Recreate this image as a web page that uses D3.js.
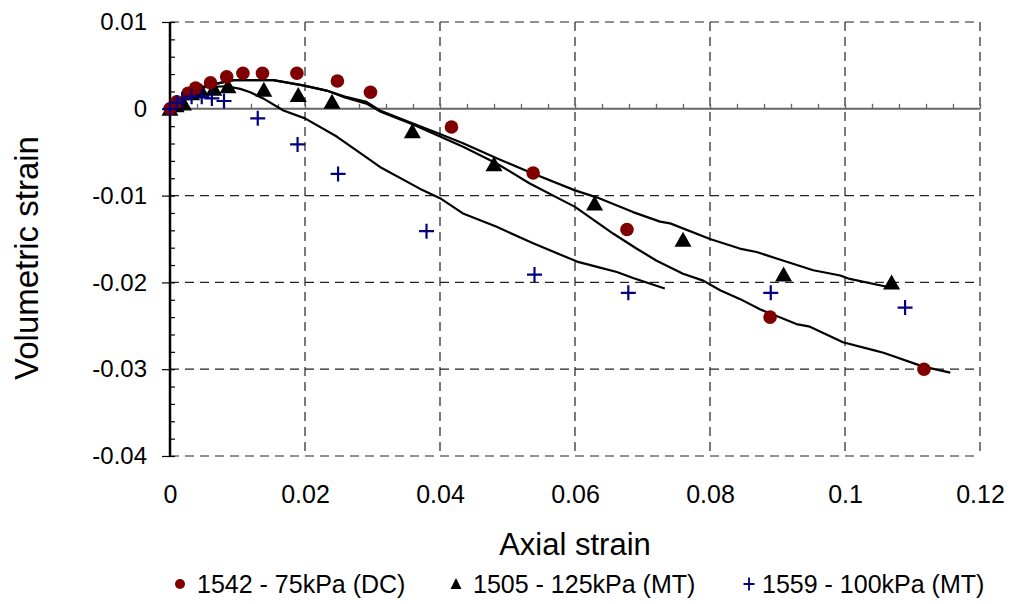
<!DOCTYPE html>
<html>
<head>
<meta charset="utf-8">
<script src="https://cdn.jsdelivr.net/npm/d3@7"></script>
<style>
  body { margin: 0; background: #fff; }
  svg { font-family: "Liberation Sans", Arial, sans-serif; }
</style>
</head>
<body>
<div id="chart"></div>
<script>
const WIDTH = 1013;
const HEIGHT = 604;

// measured points (axial strain, volumetric strain)
const dcAxial = [0, 0.001, 0.0027, 0.0038, 0.006, 0.0084, 0.0108, 0.0137, 0.0188, 0.0248, 0.0297, 0.0417, 0.0538, 0.0677, 0.0889, 0.1117];
const dcVol = [0, 0.0008, 0.0018, 0.0024, 0.003, 0.0037, 0.0041, 0.0041, 0.0041, 0.0032, 0.0019, -0.0021, -0.0074, -0.0139, -0.024, -0.030];

const mt125Axial = [0, 0.0009, 0.002, 0.0032, 0.0047, 0.0065, 0.0086, 0.0139, 0.019, 0.024, 0.0359, 0.048, 0.0629, 0.076, 0.0909, 0.1069];
const mt125Vol = [0, 0.0004, 0.0006, 0.0018, 0.002, 0.0023, 0.0026, 0.0022, 0.0016, 0.0008, -0.0026, -0.0064, -0.0109, -0.0151, -0.0191, -0.020];

const mt100Axial = [0, 0.001, 0.0018, 0.0032, 0.0047, 0.0062, 0.008, 0.013, 0.0189, 0.0249, 0.038, 0.054, 0.0679, 0.089, 0.1089];
const mt100Vol = [0, 0.0007, 0.0011, 0.0014, 0.0014, 0.0012, 0.0009, -0.0011, -0.0041, -0.0075, -0.0141, -0.0191, -0.0212, -0.0212, -0.0229];

// model curves
const curveAAxial = [0, 0.0015, 0.003, 0.0052, 0.0069, 0.0094, 0.0153, 0.0197, 0.0232, 0.0259, 0.0291, 0.0311, 0.036, 0.04, 0.0435, 0.0484, 0.0533, 0.06, 0.0632, 0.0686, 0.0726, 0.0741, 0.08, 0.0844, 0.0869, 0.0909, 0.0953, 0.0993, 0.1007, 0.1062];
const curveAVol = [0, 0.001, 0.0019, 0.0026, 0.0029, 0.0033, 0.0033, 0.0027, 0.0021, 0.0014, 0.0008, -0.0002, -0.0017, -0.0029, -0.004, -0.0057, -0.0073, -0.0094, -0.0102, -0.0119, -0.013, -0.0132, -0.015, -0.0161, -0.0165, -0.0175, -0.0186, -0.0192, -0.0196, -0.0205];

const curveBAxial = [0, 0.0015, 0.003, 0.0052, 0.0069, 0.0094, 0.0153, 0.0197, 0.0232, 0.0259, 0.0291, 0.0311, 0.036, 0.04, 0.0435, 0.0484, 0.0533, 0.06, 0.0657, 0.0691, 0.0721, 0.076, 0.079, 0.0815, 0.0844, 0.0874, 0.0928, 0.0948, 0.0997, 0.1042, 0.1057, 0.1116, 0.1156];
const curveBVol = [0, 0.001, 0.0019, 0.0026, 0.0029, 0.0033, 0.0033, 0.0027, 0.0021, 0.0013, 0.0006, -0.0003, -0.0018, -0.0032, -0.0044, -0.0063, -0.0086, -0.0113, -0.0144, -0.0161, -0.0175, -0.019, -0.0198, -0.0209, -0.0219, -0.0231, -0.0248, -0.0251, -0.0269, -0.0278, -0.0281, -0.0297, -0.0304];

const curveCAxial = [0, 0.0015, 0.003, 0.0052, 0.0084, 0.0104, 0.0119, 0.0138, 0.0168, 0.02, 0.0247, 0.0291, 0.0311, 0.037, 0.04, 0.0435, 0.0484, 0.0538, 0.0603, 0.0637, 0.0662, 0.0686, 0.0733];
const curveCVol = [0, 0.001, 0.0019, 0.0025, 0.0026, 0.0023, 0.0019, 0.0012, -0.0002, -0.0011, -0.0032, -0.0056, -0.0067, -0.0092, -0.0103, -0.0121, -0.0136, -0.0155, -0.0176, -0.0183, -0.0188, -0.0195, -0.0207];

const xTicks = [0, 0.02, 0.04, 0.06, 0.08, 0.1, 0.12];
const xTickLabels = ["0", "0.02", "0.04", "0.06", "0.08", "0.1", "0.12"];
const yTicks = [0.01, 0, -0.01, -0.02, -0.03, -0.04];
const yTickLabels = ["0.01", "0", "-0.01", "-0.02", "-0.03", "-0.04"];

const seriesNames = ["1542 - 75kPa (DC)", "1505 - 125kPa (MT)", "1559 - 100kPa (MT)"];

const margin = { top: 22, right: 33, bottom: 148, left: 170 };
const width = WIDTH - margin.left - margin.right;
const height = HEIGHT - margin.top - margin.bottom;

const svg = d3.select("#chart")
  .append("svg")
  .attr("width", WIDTH)
  .attr("height", HEIGHT);

const g = svg.append("g")
  .attr("transform", "translate(" + margin.left + "," + margin.top + ")");

const x = d3.scaleLinear().domain([0, 0.12]).range([0, width]);
const y = d3.scaleLinear().domain([-0.04, 0.01]).range([height, 0]);

// dashed gridlines (also form the frame on top, right and bottom)
g.selectAll(".hgrid")
  .data(yTicks.filter(function (d) { return d !== 0; }))
  .enter()
  .append("line")
  .attr("x1", 0)
  .attr("x2", width)
  .attr("y1", function (d) { return y(d); })
  .attr("y2", function (d) { return y(d); })
  .attr("stroke", "#222")
  .attr("stroke-width", 1.2)
  .attr("stroke-dasharray", "9,6");

g.selectAll(".vgrid")
  .data(xTicks.filter(function (d) { return d !== 0; }))
  .enter()
  .append("line")
  .attr("x1", function (d) { return x(d); })
  .attr("x2", function (d) { return x(d); })
  .attr("y1", 0)
  .attr("y2", height)
  .attr("stroke", "#222")
  .attr("stroke-width", 1.2)
  .attr("stroke-dasharray", "9,6");

// horizontal axis through zero, minor ticks pointing up
const xMinor = d3.range(0, 0.1201, 0.004);
g.append("g")
  .attr("transform", "translate(0," + y(0) + ")")
  .call(d3.axisTop(x).tickValues(xMinor).tickSize(5).tickFormat(""))
  .call(function (s) {
    s.select(".domain").remove();
    s.selectAll("line").attr("stroke", "#666").attr("stroke-width", 1.3);
  });
g.append("line")
  .attr("x1", 0)
  .attr("x2", width)
  .attr("y1", y(0))
  .attr("y2", y(0))
  .attr("stroke", "#666")
  .attr("stroke-width", 2);

// x labels sit below the plot
g.append("g")
  .attr("transform", "translate(0," + height + ")")
  .call(d3.axisBottom(x).tickValues(xTicks).tickSize(0).tickFormat(function (d, i) { return xTickLabels[i]; }))
  .call(function (s) {
    s.select(".domain").remove();
    s.selectAll("text")
      .attr("y", 47)
      .attr("dy", null)
      .attr("fill", "#000")
      .style("font-size", "25px")
      .style("font-family", "Liberation Sans, Arial, sans-serif");
  });

// y axis: major ticks outside, minor inside
const yMinor = d3.range(-0.04, 0.01001, 0.002);
g.append("g")
  .call(d3.axisRight(y).tickValues(yMinor).tickSize(5).tickFormat(""))
  .call(function (s) {
    s.select(".domain").remove();
    s.selectAll("line").attr("stroke", "#000").attr("stroke-width", 1.2);
  });
g.append("g")
  .call(d3.axisLeft(y).tickValues(yTicks).tickSize(8).tickPadding(15).tickFormat(function (d, i) { return yTickLabels[i]; }))
  .call(function (s) {
    s.select(".domain").remove();
    s.selectAll("line").attr("stroke", "#000").attr("stroke-width", 1.2);
    s.selectAll("text")
      .attr("fill", "#000")
      .style("font-size", "24px")
      .style("font-family", "Liberation Sans, Arial, sans-serif");
  });
g.append("line")
  .attr("x1", 0)
  .attr("x2", 0)
  .attr("y1", 0)
  .attr("y2", height)
  .attr("stroke", "#000")
  .attr("stroke-width", 2.5);

// model curves
const line = d3.line()
  .x(function (d) { return x(d[0]); })
  .y(function (d) { return y(d[1]); });

[[curveAAxial, curveAVol], [curveBAxial, curveBVol], [curveCAxial, curveCVol]].forEach(function (c) {
  g.append("path")
    .datum(d3.zip(c[0], c[1]))
    .attr("d", line)
    .attr("fill", "none")
    .attr("stroke", "#000")
    .attr("stroke-width", 2.2)
    .attr("stroke-linejoin", "round");
});

// markers
const triPath = "M0,-8L8.5,7L-8.5,7Z";
const plusPath = "M-7.5,0H7.5M0,-7.5V7.5";

g.selectAll(".mt125")
  .data(d3.zip(mt125Axial, mt125Vol))
  .enter()
  .append("path")
  .attr("transform", function (d) { return "translate(" + x(d[0]) + "," + y(d[1]) + ")"; })
  .attr("d", triPath)
  .attr("fill", "#000");

g.selectAll(".dc")
  .data(d3.zip(dcAxial, dcVol))
  .enter()
  .append("circle")
  .attr("cx", function (d) { return x(d[0]); })
  .attr("cy", function (d) { return y(d[1]); })
  .attr("r", 6.8)
  .attr("fill", "#800000");

g.selectAll(".mt100")
  .data(d3.zip(mt100Axial, mt100Vol))
  .enter()
  .append("path")
  .attr("transform", function (d) { return "translate(" + x(d[0]) + "," + y(d[1]) + ")"; })
  .attr("d", plusPath)
  .attr("fill", "none")
  .attr("stroke", "#000080")
  .attr("stroke-width", 2.2);

// axis titles
svg.append("text")
  .attr("x", 575)
  .attr("y", 555)
  .attr("text-anchor", "middle")
  .style("font-size", "31px")
  .text("Axial strain");

svg.append("text")
  .attr("transform", "translate(38,258) rotate(-90)")
  .attr("text-anchor", "middle")
  .style("font-size", "33px")
  .text("Volumetric strain");

// legend
const legendX = [180, 456, 749];
const legend = svg.append("g");
legendX.forEach(function (lx, i) {
  const item = legend.append("g").attr("transform", "translate(" + lx + ",584)");
  if (i === 0) {
    item.append("circle").attr("r", 5).attr("fill", "#800000");
  } else if (i === 1) {
    item.append("path").attr("d", "M0,-6L5.5,5L-5.5,5Z").attr("fill", "#000");
  } else {
    item.append("path").attr("d", "M-5.5,0H5.5M0,-6.5V6.5").attr("stroke", "#000080").attr("stroke-width", 1.8);
  }
  item.append("text")
    .attr("x", i === 2 ? 13 : 17)
    .attr("y", 9)
    .style("font-size", "25px")
    .text(seriesNames[i]);
});
</script>
</body>
</html>
